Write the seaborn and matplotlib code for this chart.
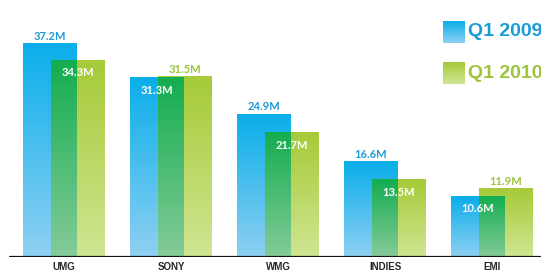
import numpy as np
import pandas as pd
import matplotlib
matplotlib.use('Agg')
import matplotlib.pyplot as plt
import seaborn as sns
from matplotlib.colors import LinearSegmentedColormap

# 数据
companies = ['UMG', 'SONY', 'WMG', 'INDIES', 'EMI']
q1_2009 = [37.2, 31.3, 24.9, 16.6, 10.6]
q1_2010 = [34.3, 31.5, 21.7, 13.5, 11.9]
quarters = ['Q1 2009', 'Q1 2010']

sns.set_style('white')
plt.rcParams['font.family'] = ['Lato', 'DejaVu Sans']
narrow = ['Liberation Sans', 'DejaVu Sans']

# 颜色 (上, 下)
blue = ('#0aaeea', '#8ed0f2')
lime = ('#a6ca38', '#d0e592')
dark = ('#14ad50', '#84cb98')
blue_txt = '#1a9cd8'
lime_txt = '#9cc43c'

W, H = 541, 273
px_per_unit = 107.0
shift = 28 / 2 / px_per_unit
bar_w = 54 / px_per_unit

idx = np.arange(len(companies))
df09 = pd.DataFrame({'pos': idx - shift, 'sales': q1_2009, 'company': companies})
df10 = pd.DataFrame({'pos': idx + shift, 'sales': q1_2010, 'company': companies})

fig = plt.figure(figsize=(W / 100, H / 100), dpi=100)
ax = fig.add_axes([0, 16 / H, 1, 257 / H])

sns.barplot(data=df09, x='pos', y='sales', native_scale=True, width=bar_w,
            color=blue[0], errorbar=None, ax=ax)
n09 = len(ax.patches)
sns.barplot(data=df10, x='pos', y='sales', native_scale=True, width=bar_w,
            color=lime[0], errorbar=None, ax=ax)
bars09 = ax.patches[:n09]
bars10 = ax.patches[n09:]


def grad(ax, x0, x1, y1, cols, z):
    cmap = LinearSegmentedColormap.from_list('g', [cols[1], cols[0]])
    ax.imshow(np.linspace(0, 1, 128).reshape(-1, 1), extent=(x0, x1, 0, y1),
              origin='lower', cmap=cmap, aspect='auto', zorder=z,
              interpolation='bilinear')


for b in bars09:
    b.set_alpha(0)
    grad(ax, b.get_x(), b.get_x() + b.get_width(), b.get_height(), blue, 2)
for b in bars10:
    b.set_alpha(0)
    grad(ax, b.get_x(), b.get_x() + b.get_width(), b.get_height(), lime, 3)
# 重叠部分
for b1, b2 in zip(bars09, bars10):
    x0 = b2.get_x()
    x1 = b1.get_x() + b1.get_width()
    h = min(b1.get_height(), b2.get_height())
    grad(ax, x0, x1, h, dark, 4)

ymax = 257 / 5.73
ax.set_ylim(0, ymax)
ax.set_xlim(-64 / px_per_unit, (W - 64) / px_per_unit)

# 数值标签
up = 2 / 5.73
down = 7 / 5.73
for b1, b2, v1, v2 in zip(bars09, bars10, q1_2009, q1_2010):
    c1 = b1.get_x() + b1.get_width() / 2
    c2 = b2.get_x() + b2.get_width() / 2
    for c, v, other, col in [(c1, v1, v2, blue_txt), (c2, v2, v1, lime_txt)]:
        if v >= other:
            ax.text(c, v + up, f'{v}M', ha='center', va='bottom', color=col,
                    fontsize=8, fontweight='bold', zorder=6)
        else:
            ax.text(c, v - down, f'{v}M', ha='center', va='top', color='white',
                    fontsize=8, fontweight='bold', zorder=6)

ax.axhline(0, xmin=10 / W, xmax=1, color='#111111', lw=1.6, zorder=7)
ax.set_xticks(idx)
ax.set_xticklabels(companies, family=narrow, fontweight='bold',
                   fontstretch='condensed', fontsize=7)
ax.tick_params(axis='x', length=0, pad=3.5)
ax.set_yticks([])
ax.set_xlabel('')
ax.set_ylabel('')
sns.despine(ax=ax, left=True, bottom=True)

# 图例
for i, (q, cols, tc) in enumerate(zip(quarters, [blue, lime], [blue_txt, lime_txt])):
    top = 21 + i * 41
    lax = fig.add_axes([443 / W, (H - top - 22) / H, 22 / W, 22 / H])
    lax.imshow(np.linspace(0, 1, 64).reshape(-1, 1), origin='lower', aspect='auto',
               cmap=LinearSegmentedColormap.from_list('l', [cols[1], cols[0]]))
    lax.axis('off')
    fig.text(468 / W, (H - top - 11) / H, q, color=tc, fontsize=14,
             fontweight='bold', family=narrow, fontstretch='condensed',
             va='center', ha='left')

fig.savefig('out.png', dpi=100)
